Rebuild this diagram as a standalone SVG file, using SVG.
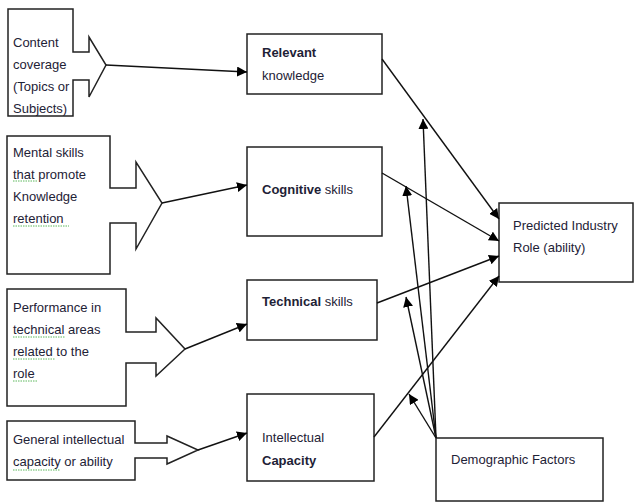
<svg xmlns="http://www.w3.org/2000/svg" width="634" height="504" viewBox="0 0 634 504">
<defs>
<marker id="ah" viewBox="0 0 10 10" refX="10" refY="5" markerWidth="10" markerHeight="10" markerUnits="userSpaceOnUse" orient="auto">
<path d="M0,0 L10,5 L0,10 Z" fill="#000"/>
</marker>
<style>
.box{fill:#fff;stroke:#222;stroke-width:1.5}
.t{font-family:"Liberation Sans",Arial,sans-serif;font-size:13px;fill:#1e2236}
.b{font-weight:bold}
.c{fill:none;stroke:#111;stroke-width:1.4;marker-end:url(#ah)}
.sq{fill:none;stroke:#5cb85c;stroke-width:1;stroke-dasharray:1.5 1}
</style>
</defs>
<g id="content-coverage">
<path class="box" d="M8,9 H73 V52 H89 V37 L106,65 L89,97 V80 H73 V116 H8 Z"/>
<text class="t" x="13" y="47">Content</text>
<text class="t" x="13" y="69">coverage</text>
<text class="t" x="13" y="91">(Topics or</text>
<text class="t" x="13" y="113">Subjects)</text>
</g>
<g id="mental-skills">
<path class="box" d="M7,136 H110 V188 H136 V162 L162,203 L136,249 V223 H110 V274 H7 Z"/>
<text class="t" x="13" y="157">Mental skills</text>
<text class="t" x="13" y="179">that promote</text>
<text class="t" x="13" y="201">Knowledge</text>
<text class="t" x="13" y="223">retention</text>
<path class="sq" d="M13,181 H38 M13,226 H69"/>
</g>
<g id="performance">
<path class="box" d="M7,289 H126 V332 H156 V318 L185,349 L156,376 V363 H126 V406 H7 Z"/>
<text class="t" x="13" y="312">Performance in</text>
<text class="t" x="13" y="334">technical areas</text>
<text class="t" x="13" y="356">related to the</text>
<text class="t" x="13" y="378">role</text>
<path class="sq" d="M13,337 H65 M13,359 H55 M13,381 H37"/>
</g>
<g id="general-capacity">
<path class="box" d="M7,421 H135 V443 H167 V436 L198,450 L167,464 V458 H135 V480 H7 Z"/>
<text class="t" x="13" y="444">General intellectual</text>
<text class="t" x="13" y="466">capacity or ability</text>
<path class="sq" d="M13,470 H60"/>
</g>
<g id="relevant">
<rect class="box" x="247" y="34" width="135" height="60"/>
<text class="t b" x="262" y="57">Relevant</text>
<text class="t" x="262" y="80">knowledge</text>
</g>
<g id="cognitive">
<rect class="box" x="247" y="147" width="135" height="89"/>
<text class="t" x="262" y="194"><tspan class="b">Cognitive</tspan> skills</text>
</g>
<g id="technical">
<rect class="box" x="247" y="280" width="130" height="60"/>
<text class="t" x="262" y="306"><tspan class="b">Technical</tspan> skills</text>
</g>
<g id="intellectual">
<rect class="box" x="247" y="394" width="127" height="87"/>
<text class="t" x="262" y="442">Intellectual</text>
<text class="t b" x="262" y="465">Capacity</text>
</g>
<g id="predicted">
<rect class="box" x="499" y="203" width="134" height="79"/>
<text class="t" x="513" y="230">Predicted Industry</text>
<text class="t" x="513" y="252">Role (ability)</text>
</g>
<g id="demographic">
<rect class="box" x="436" y="438" width="167" height="63"/>
<text class="t" x="451" y="464">Demographic Factors</text>
</g>
<g id="connectors">
<line class="c" x1="106" y1="65" x2="247" y2="72"/>
<line class="c" x1="162" y1="203" x2="247" y2="185"/>
<line class="c" x1="185" y1="349" x2="247" y2="324"/>
<line class="c" x1="198" y1="450" x2="247" y2="433"/>
<line class="c" x1="382" y1="59" x2="499" y2="219"/>
<line class="c" x1="382" y1="173" x2="499" y2="241"/>
<line class="c" x1="377" y1="303" x2="499" y2="256"/>
<line class="c" x1="374" y1="437" x2="499" y2="276"/>
<line class="c" x1="436" y1="438" x2="423" y2="119"/>
<line class="c" x1="436" y1="438" x2="406" y2="186"/>
<line class="c" x1="436" y1="438" x2="406" y2="297"/>
<line class="c" x1="436" y1="438" x2="409" y2="394"/>
</g>
</svg>
